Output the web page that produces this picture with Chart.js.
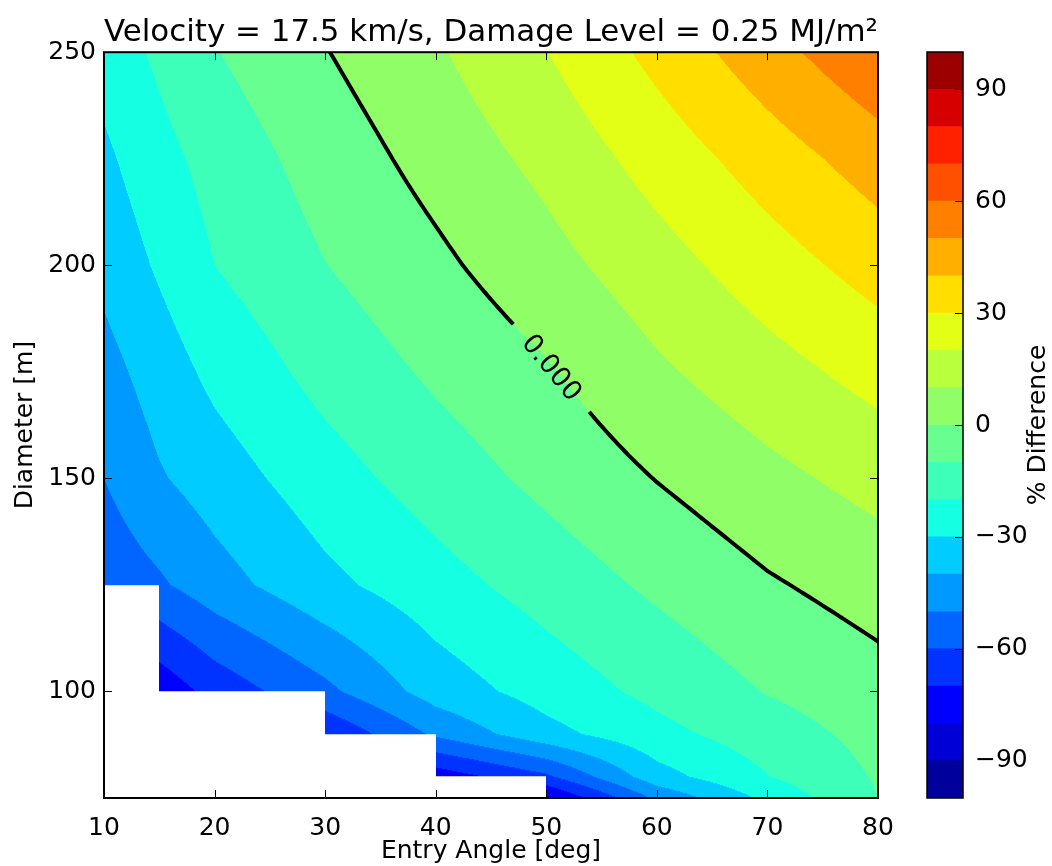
<!DOCTYPE html>
<html>
<head>
<meta charset="utf-8">
<script src="https://cdn.jsdelivr.net/npm/chart.js@4"></script>
<style>
  html, body { margin: 0; padding: 0; background: #fff; }
  #wrap { position: relative; width: 1052px; height: 866px; }
  #main { position: absolute; left: 0; top: 0; }
  #bar { position: absolute; left: 900px; top: 0; }
</style>
</head>
<body>
<div id="wrap">
  <canvas id="main" width="900" height="866"></canvas>
  <canvas id="bar" width="152" height="866"></canvas>
</div>
<script>
// grid of the contour data
const angles = [10, 15, 20, 30, 40, 50, 60, 70, 80];            // entry angle [deg]
const diameters = [75, 80, 90, 100, 125, 150, 175, 200, 225, 250]; // diameter [m]

// % difference, one row per diameter (null = no data)
const pctDiff = [
  [null, null, null, null, null, -82, -48, -27.5, -9.9],        // 75
  [null, null, null, null, -76, -62, -34, -20.3, -9.0],         // 80
  [null, null, null, -69, -48.2, -33.3, -23, -14.8, -6.7],      // 90
  [null, -77, -66.4, -52.5, -35.5, -25.8, -17.3, -9.5, -3.8],   // 100
  [-57, -51.5, -44.2, -32.6, -23.8, -15.7, -8.1, -1.1, 4.3],    // 125
  [-50, -41, -35.1, -24.2, -15.2, -7.4, 0.3, 7.3, 13.5],        // 150
  [-43.8, -35.2, -27.4, -16.5, -8.3, -1.0, 8.4, 16.2, 23.6],    // 175
  [-37.2, -28.6, -20, -10.2, -2.1, 6.5, 15.9, 25.4, 34.2],      // 200
  [-32, -23.3, -16.3, -5.6, 3.6, 12.8, 24.1, 34.8, 45],         // 225
  [-26, -18, -10.5, -0.4, 8.8, 19.8, 33, 46.1, 58.6]            // 250
];

const levels = [];
for (let v = -100; v <= 100; v += 10) levels.push(v);
const lineLevels = [0];
const xTicks = [10, 20, 30, 40, 50, 60, 70, 80];
const yTicks = [100, 150, 200, 250];
const cbTicks = [-90, -60, -30, 0, 30, 60, 90];

const FONT = 'DejaVu Sans';
Chart.defaults.font.family = FONT;
Chart.defaults.color = '#000';

// jet colormap
const JR = [[0, 0], [0.35, 0], [0.66, 1], [0.89, 1], [1, 0.5]];
const JG = [[0, 0], [0.125, 0], [0.375, 1], [0.64, 1], [0.91, 0], [1, 0]];
const JB = [[0, 0.5], [0.11, 1], [0.34, 1], [0.65, 0], [1, 0]];
function seg(pts, t) {
  for (let k = 1; k < pts.length; k++) {
    if (t <= pts[k][0]) {
      const [x0, y0] = pts[k - 1], [x1, y1] = pts[k];
      return y0 + (y1 - y0) * (t - x0) / (x1 - x0);
    }
  }
  return pts[pts.length - 1][1];
}
function jet(t) {
  return [seg(JR, t), seg(JG, t), seg(JB, t)].map(v => Math.round(v * 255));
}
const nBands = levels.length - 1;
const bandRGB = [];
for (let i = 0; i < nBands; i++) bandRGB.push(jet((i + 0.5) / nBands));
const bandCss = bandRGB.map(c => `rgb(${c[0]},${c[1]},${c[2]})`);

function bandOf(v) {
  for (let i = 0; i < nBands; i++) if (v < levels[i + 1]) return i;
  return nBands - 1;
}

// bilinear value inside the grid, null where a corner is missing
function valueAt(x, y) {
  let i = angles.length - 2;
  while (i > 0 && x < angles[i]) i--;
  let j = diameters.length - 2;
  while (j > 0 && y < diameters[j]) j--;
  const z00 = pctDiff[j][i], z10 = pctDiff[j][i + 1];
  const z01 = pctDiff[j + 1][i], z11 = pctDiff[j + 1][i + 1];
  if (z00 === null || z10 === null || z01 === null || z11 === null) return null;
  const tx = (x - angles[i]) / (angles[i + 1] - angles[i]);
  const ty = (y - diameters[j]) / (diameters[j + 1] - diameters[j]);
  return z00 * (1 - tx) * (1 - ty) + z10 * tx * (1 - ty) + z01 * (1 - tx) * ty + z11 * tx * ty;
}

// contour segments of one level, cells refined so the line follows the fill
function contourSegments(level, xs, ys) {
  const segs = [];
  const N = 16;
  for (let j = 0; j < diameters.length - 1; j++) {
    for (let i = 0; i < angles.length - 1; i++) {
      const c = [pctDiff[j][i], pctDiff[j][i + 1], pctDiff[j + 1][i], pctDiff[j + 1][i + 1]];
      if (c.some(v => v === null)) continue;
      const x0 = angles[i], x1 = angles[i + 1], y0 = diameters[j], y1 = diameters[j + 1];
      const g = [];
      for (let b = 0; b <= N; b++) {
        g.push([]);
        for (let a = 0; a <= N; a++) {
          const tx = a / N, ty = b / N;
          g[b].push(c[0] * (1 - tx) * (1 - ty) + c[1] * tx * (1 - ty) + c[2] * (1 - tx) * ty + c[3] * tx * ty);
        }
      }
      const px = a => xs.getPixelForValue(x0 + (x1 - x0) * a / N);
      const py = b => ys.getPixelForValue(y0 + (y1 - y0) * b / N);
      for (let b = 0; b < N; b++) {
        for (let a = 0; a < N; a++) {
          const v00 = g[b][a], v10 = g[b][a + 1], v01 = g[b + 1][a], v11 = g[b + 1][a + 1];
          const pts = [];
          const cross = (va, vb, pa, pb) => {
            if ((va < level) !== (vb < level)) {
              const t = (level - va) / (vb - va);
              pts.push([pa[0] + (pb[0] - pa[0]) * t, pa[1] + (pb[1] - pa[1]) * t]);
            }
          };
          const P00 = [px(a), py(b)], P10 = [px(a + 1), py(b)];
          const P01 = [px(a), py(b + 1)], P11 = [px(a + 1), py(b + 1)];
          cross(v00, v10, P00, P10);
          cross(v10, v11, P10, P11);
          cross(v11, v01, P11, P01);
          cross(v01, v00, P01, P00);
          if (pts.length >= 2) segs.push([pts[0], pts[1]]);
          if (pts.length === 4) segs.push([pts[2], pts[3]]);
        }
      }
    }
  }
  return segs;
}

const labelPos = { x: 50.4, y: 175.8 };

const contourPlugin = {
  id: 'contour',
  beforeDatasetsDraw(chart) {
    const { ctx, chartArea: area } = chart;
    const xs = chart.scales.x, ys = chart.scales.y;
    const w = Math.round(area.right - area.left), h = Math.round(area.bottom - area.top);
    const off = document.createElement('canvas');
    off.width = w; off.height = h;
    const octx = off.getContext('2d');
    const img = octx.createImageData(w, h);
    for (let r = 0; r < h; r++) {
      const yv = ys.getValueForPixel(area.top + r + 0.5);
      for (let c = 0; c < w; c++) {
        const xv = xs.getValueForPixel(area.left + c + 0.5);
        const v = valueAt(xv, yv);
        const k = (r * w + c) * 4;
        if (v === null) {
          img.data[k] = 255; img.data[k + 1] = 255; img.data[k + 2] = 255; img.data[k + 3] = 255;
        } else {
          const col = bandRGB[bandOf(v)];
          img.data[k] = col[0]; img.data[k + 1] = col[1]; img.data[k + 2] = col[2]; img.data[k + 3] = 255;
        }
      }
    }
    octx.putImageData(img, 0, 0);
    ctx.drawImage(off, area.left, area.top);

    // label direction from the local gradient
    const lx = xs.getPixelForValue(labelPos.x), ly = ys.getPixelForValue(labelPos.y);
    const f = (px, py) => valueAt(xs.getValueForPixel(px), ys.getValueForPixel(py));
    const gx = f(lx + 1, ly) - f(lx - 1, ly), gy = f(lx, ly + 1) - f(lx, ly - 1);
    let ux = -gy, uy = gx;
    const len = Math.hypot(ux, uy);
    ux /= len; uy /= len;
    if (ux < 0) { ux = -ux; uy = -uy; }
    const nx = -uy, ny = ux;
    const hl = 58, hh = 24;

    ctx.save();
    ctx.beginPath();
    ctx.rect(area.left, area.top, area.right - area.left, area.bottom - area.top);
    ctx.moveTo(lx - ux * hl - nx * hh, ly - uy * hl - ny * hh);
    ctx.lineTo(lx + ux * hl - nx * hh, ly + uy * hl - ny * hh);
    ctx.lineTo(lx + ux * hl + nx * hh, ly + uy * hl + ny * hh);
    ctx.lineTo(lx - ux * hl + nx * hh, ly - uy * hl + ny * hh);
    ctx.closePath();
    ctx.clip('evenodd');
    ctx.strokeStyle = '#000';
    ctx.lineWidth = 4;
    ctx.lineCap = 'round';
    ctx.lineJoin = 'round';
    lineLevels.forEach(L => {
      const segs = contourSegments(L, xs, ys);
      ctx.beginPath();
      segs.forEach(s => { ctx.moveTo(s[0][0], s[0][1]); ctx.lineTo(s[1][0], s[1][1]); });
      ctx.stroke();
    });
    ctx.restore();

    ctx.save();
    ctx.translate(lx, ly);
    ctx.rotate(Math.atan2(uy, ux));
    ctx.font = `27px "${FONT}"`;
    ctx.fillStyle = '#000';
    ctx.textAlign = 'center';
    ctx.textBaseline = 'middle';
    ctx.fillText(lineLevels[0].toFixed(3), 0, 0);
    ctx.restore();
  },
  afterDraw(chart) {
    const { ctx, chartArea: a } = chart;
    const xs = chart.scales.x, ys = chart.scales.y;
    ctx.save();
    ctx.strokeStyle = '#000';
    ctx.lineWidth = 1;
    ctx.beginPath();
    xTicks.forEach(v => {
      const p = Math.round(xs.getPixelForValue(v)) + 0.5;
      ctx.moveTo(p, a.bottom); ctx.lineTo(p, a.bottom - 8);
      ctx.moveTo(p, a.top); ctx.lineTo(p, a.top + 8);
    });
    yTicks.forEach(v => {
      const p = Math.round(ys.getPixelForValue(v)) + 0.5;
      ctx.moveTo(a.left, p); ctx.lineTo(a.left + 8, p);
      ctx.moveTo(a.right, p); ctx.lineTo(a.right - 8, p);
    });
    ctx.stroke();
    ctx.lineWidth = 2;
    ctx.strokeRect(a.left, a.top, a.right - a.left, a.bottom - a.top);
    ctx.restore();
  }
};

const tickFont = { size: 25, family: FONT };

new Chart(document.getElementById('main'), {
  type: 'scatter',
  data: { datasets: [] },
  options: {
    responsive: false,
    animation: false,
    layout: { padding: { left: 10, right: 22, top: 0, bottom: 0 } },
    plugins: {
      legend: { display: false },
      tooltip: { enabled: false },
      title: {
        display: true,
        fullSize: false,
        text: 'Velocity = 17.5 km/s, Damage Level = 0.25 MJ/m\u00b2',
        font: { size: 31, family: FONT, weight: 'normal' },
        color: '#000',
        padding: { top: 14, bottom: 1 }
      }
    },
    scales: {
      x: {
        type: 'linear', min: 10, max: 80,
        afterBuildTicks: s => { s.ticks = xTicks.map(v => ({ value: v })); },
        afterFit: s => { s.height = 68; s.paddingLeft = 0; s.paddingRight = 0; },
        ticks: { font: tickFont, color: '#000', padding: 15, maxRotation: 0 },
        grid: { display: false, drawTicks: false },
        border: { display: false },
        title: { display: true, text: 'Entry Angle [deg]', font: tickFont, color: '#000', padding: 0 }
      },
      y: {
        type: 'linear', min: 75, max: 250,
        afterBuildTicks: s => { s.ticks = yTicks.map(v => ({ value: v })); },
        afterFit: s => { s.width = 94; s.paddingTop = 0; s.paddingBottom = 0; },
        ticks: { font: tickFont, color: '#000', padding: 8 },
        grid: { display: false, drawTicks: false },
        border: { display: false },
        title: { display: true, text: 'Diameter [m]', font: tickFont, color: '#000', padding: 0 }
      }
    }
  },
  plugins: [contourPlugin]
});

// colorbar
const barFrame = {
  id: 'barFrame',
  afterDraw(chart) {
    const { ctx, chartArea: a } = chart;
    const ys = chart.scales.y;
    ctx.save();
    ctx.strokeStyle = '#000';
    ctx.lineWidth = 1;
    ctx.beginPath();
    cbTicks.forEach(v => {
      const p = Math.round(ys.getPixelForValue(v)) + 0.5;
      ctx.moveTo(a.right, p); ctx.lineTo(a.right - 8, p);
    });
    ctx.stroke();
    ctx.lineWidth = 1.5;
    ctx.strokeRect(a.left, a.top, a.right - a.left, a.bottom - a.top);
    ctx.translate(ys.right - 14, (a.top + a.bottom) / 2);
    ctx.rotate(-Math.PI / 2);
    ctx.font = `25px "${FONT}"`;
    ctx.fillStyle = '#000';
    ctx.textAlign = 'center';
    ctx.textBaseline = 'middle';
    ctx.fillText('% Difference', 0, 0);
    ctx.restore();
  }
};

new Chart(document.getElementById('bar'), {
  type: 'bar',
  data: {
    labels: [''],
    datasets: levels.slice(0, -1).map((lo, i) => ({
      data: [[lo, levels[i + 1]]],
      backgroundColor: bandCss[i],
      borderWidth: 0,
      barPercentage: 1,
      categoryPercentage: 1,
      grouped: false
    }))
  },
  options: {
    responsive: false,
    animation: false,
    layout: { padding: { left: 27, right: 0, top: 52, bottom: 68 } },
    plugins: { legend: { display: false }, tooltip: { enabled: false } },
    scales: {
      x: { display: false },
      y: {
        position: 'right', min: -100, max: 100,
        afterBuildTicks: s => { s.ticks = cbTicks.map(v => ({ value: v })); },
        afterFit: s => { s.width = 89; },
        ticks: {
          font: tickFont, color: '#000', padding: 12,
          callback: v => (v < 0 ? '\u2212' + Math.abs(v) : String(v))
        },
        grid: { display: false, drawTicks: false },
        border: { display: false }
      }
    }
  },
  plugins: [barFrame]
});
</script>
</body>
</html>
